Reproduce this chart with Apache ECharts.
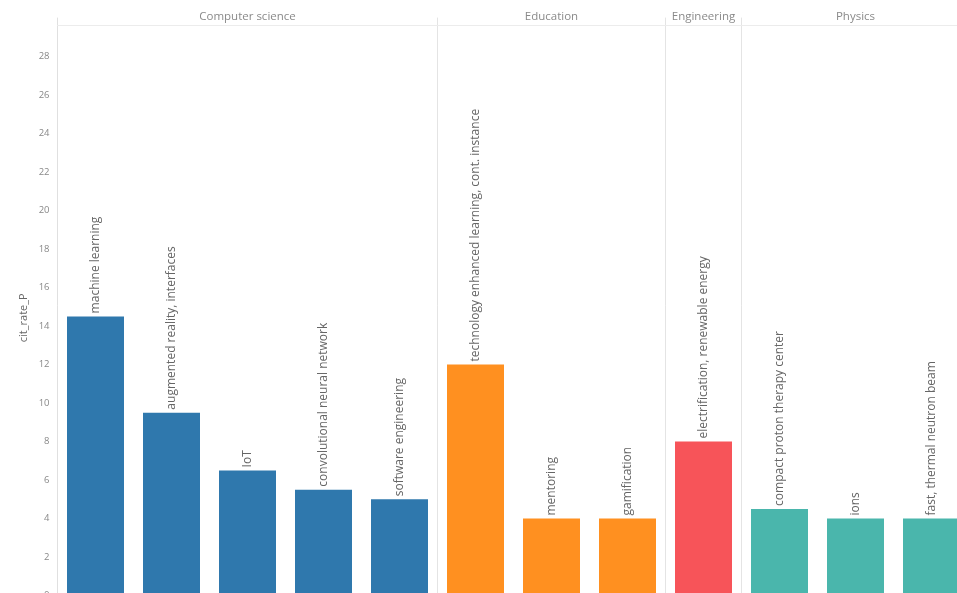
<!DOCTYPE html>
<html>
<head>
<meta charset="utf-8">
<script src="https://cdn.jsdelivr.net/npm/echarts@6/dist/echarts.min.js"></script>
<style>
html,body{margin:0;padding:0;background:#fff;}
#chart{width:957px;height:593px;}
</style>
</head>
<body>
<div id="chart"></div>
<script>
// ---- data ----
const facets = ['Computer science', 'Education', 'Engineering', 'Physics'];
const csTopics = ['machine learning', 'augmented reality, interfaces', 'IoT', 'convolutional neural network', 'software engineering'];
const csValues = [14.5, 9.5, 6.5, 5.5, 5.0];
const eduTopics = ['technology enhanced learning, cont. instance', 'mentoring', 'gamification'];
const eduValues = [12, 4, 4];
const engTopics = ['electrification, renewable energy'];
const engValues = [8];
const phyTopics = ['compact proton therapy center', 'ions', 'fast, thermal neutron beam'];
const phyValues = [4.5, 4, 4];
const facetColors = ['#2f78ad', '#ff9020', '#f75459', '#4ab6ac'];
const yName = 'cit_rate_P';
const yMin = 0, yMax = 30, yStep = 2;

const topicsByFacet = [csTopics, eduTopics, engTopics, phyTopics];
const valuesByFacet = [csValues, eduValues, engValues, phyValues];

// ---- layout ----
const band = 76;
const left0 = 57.5;
const gridTop = 18;
const gridHeight = 577.5;
const font = '"Open Sans", Lato, sans-serif';

const grid = [], xAxis = [], yAxis = [], series = [];
let x = left0;
facets.forEach((f, i) => {
  const w = topicsByFacet[i].length * band;
  grid.push({left: x, top: gridTop, width: w, height: gridHeight, outerBoundsMode: 'none', containLabel: false});
  x += w;
  xAxis.push({
    type: 'category', gridIndex: i, data: topicsByFacet[i], position: 'bottom',
    axisLine: {show: false}, axisTick: {show: false}, axisLabel: {show: false}
  });
  xAxis.push({
    type: 'category', gridIndex: i, data: [f], position: 'top', offset: -7,
    axisLine: {show: true, lineStyle: {color: '#ececec', width: 1}},
    axisTick: {show: false},
    axisLabel: {show: true, color: '#8a8a8a', fontSize: 11.5, fontFamily: font, margin: 2}
  });
  yAxis.push({
    type: 'value', gridIndex: i, min: yMin, max: yMax, interval: yStep,
    name: i === 0 ? yName : '', nameLocation: 'middle', nameGap: 28,
    nameTextStyle: {color: '#666', fontSize: 11, fontFamily: font, padding: [0, 22, 0, 0]},
    axisLine: {show: true, lineStyle: {color: i === 0 ? '#e0e0e0' : '#e4e4e4', width: 1}},
    axisTick: {show: false},
    splitLine: {show: false},
    axisLabel: {show: i === 0, color: '#888', fontSize: 9.5, fontFamily: font, margin: 8, showMaxLabel: false}
  });
  series.push({
    type: 'bar', xAxisIndex: i * 2, yAxisIndex: i,
    data: valuesByFacet[i], barCategoryGap: '25%',
    itemStyle: {color: facetColors[i]},
    label: {
      show: true, position: 'top', rotate: 90, align: 'left', verticalAlign: 'middle',
      distance: 3, color: '#666', fontSize: 12, fontFamily: font,
      formatter: p => p.name
    }
  });
});

const chart = echarts.init(document.getElementById('chart'));
chart.setOption({
  animation: false,
  backgroundColor: '#fff',
  grid, xAxis, yAxis, series
});
</script>
</body>
</html>
